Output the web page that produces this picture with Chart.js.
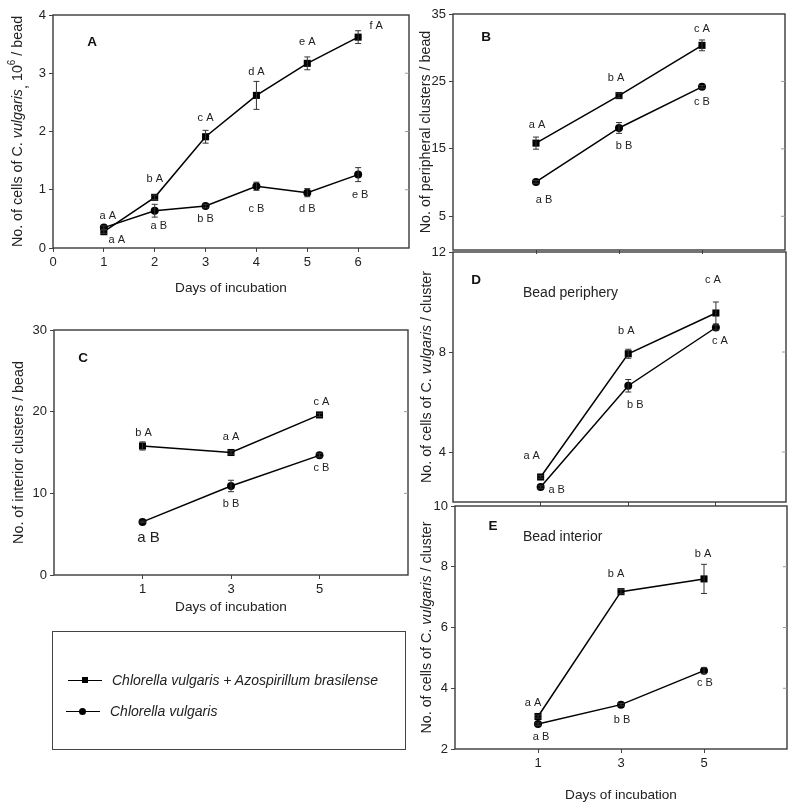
<!DOCTYPE html>
<html>
<head>
<meta charset="utf-8">
<script src="https://cdn.jsdelivr.net/npm/chart.js@4.4.1/dist/chart.umd.min.js"></script>
<style>
  body { margin: 0; background: #fff; width: 800px; height: 812px; position: relative; overflow: hidden;
         font-family: "Liberation Sans", Arial, sans-serif; }
  canvas { position: absolute; left: 0; top: 0; }
  #legend { position: absolute; left: 52px; top: 631px; width: 352px; height: 117px; border: 1.5px solid #444; }
  .row { position: absolute; left: 14px; height: 20px; font-style: italic; font-size: 14px; color: #222; line-height: 20px; }
  .mk { position: absolute; top: 10px; width: 34px; height: 0; border-top: 1.3px solid #000; }
  .sq { position: absolute; left: 14px; top: -4px; width: 6px; height: 6px; background: #000; }
  .ci { position: absolute; left: 13px; top: -4.5px; width: 7px; height: 7px; border-radius: 50%; background: #000; }
  .txt { position: absolute; left: 44px; white-space: nowrap; }
</style>
</head>
<body>
<canvas id="cA" width="800" height="812"></canvas>
<canvas id="cB" width="800" height="812"></canvas>
<canvas id="cC" width="800" height="812"></canvas>
<canvas id="cD" width="800" height="812"></canvas>
<canvas id="cE" width="800" height="812"></canvas>
<div id="legend">
  <div class="row" style="top:38px;left:15px"><div class="mk"><div class="sq"></div></div><div class="txt">Chlorella vulgaris + Azospirillum brasilense</div></div>
  <div class="row" style="top:69px;left:13px"><div class="mk"><div class="ci"></div></div><div class="txt">Chlorella vulgaris</div></div>
</div>
<script>
// --- data ---
const daysA = [1, 2, 3, 4, 5, 6];
const aMix = [0.28, 0.87, 1.91, 2.62, 3.17, 3.62];
const aMixErr = [0.03, 0.04, 0.11, 0.24, 0.11, 0.11];
const aCv = [0.35, 0.64, 0.72, 1.06, 0.95, 1.26];
const aCvErr = [0.03, 0.11, 0.03, 0.07, 0.07, 0.12];
const aMixLbl = ['a A', 'b A', 'c A', 'd A', 'e A', 'f A'];
const aCvLbl = ['a A', 'a B', 'b B', 'c B', 'd B', 'e B'];

const days = [1, 3, 5];
const bMix = [15.85, 22.9, 30.35];
const bMixErr = [0.9, 0.35, 0.8];
const bCv = [10.1, 18.1, 24.2];
const bCvErr = [0.2, 0.8, 0.2];
const bMixLbl = ['a A', 'b A', 'c A'];
const bCvLbl = ['a B', 'b B', 'c B'];

const cMix = [15.8, 15.0, 19.6];
const cMixErr = [0.5, 0.2, 0.2];
const cCv = [6.5, 10.9, 14.65];
const cCvErr = [0.1, 0.7, 0.2];
const cMixLbl = ['b A', 'a A', 'c A'];
const cCvLbl = ['a B', 'b B', 'c B'];

const dMix = [3.0, 7.93, 9.56];
const dMixErr = [0.05, 0.18, 0.44];
const dCv = [2.6, 6.65, 8.98];
const dCvErr = [0.05, 0.25, 0.1];
const dMixLbl = ['a A', 'b A', 'c A'];
const dCvLbl = ['a B', 'b B', 'c A'];

const eMix = [3.07, 7.18, 7.6];
const eMixErr = [0.05, 0.07, 0.48];
const eCv = [2.82, 3.46, 4.58];
const eCvErr = [0.04, 0.04, 0.1];
const eMixLbl = ['a A', 'b A', 'b A'];
const eCvLbl = ['a B', 'b B', 'c B'];

const ticksA_x = [0, 1, 2, 3, 4, 5, 6];
const ticksA_y = [0, 1, 2, 3, 4];
const ticksB_y = [5, 15, 25, 35];
const ticksC_y = [0, 10, 20, 30];
const ticksD_y = [4, 8, 12];
const ticksE_y = [2, 4, 6, 8, 10];

const FONT = '"Liberation Sans", Arial, sans-serif';
const TXT = '#222';

function rich(txt, opt) { return Object.assign({ t: txt, f: '14.3px ' + FONT }, opt || {}); }
const it = s => rich(s, { f: 'italic 14.3px ' + FONT });

function drawRich(ctx, segs, cx, cy, rot) {
  ctx.save();
  ctx.translate(cx, cy);
  ctx.rotate(rot);
  let w = 0;
  segs.forEach(s => { ctx.font = s.f; w += ctx.measureText(s.t).width; });
  let x = -w / 2;
  ctx.textBaseline = 'middle';
  ctx.textAlign = 'left';
  ctx.fillStyle = TXT;
  segs.forEach(s => {
    ctx.font = s.f;
    ctx.fillText(s.t, x, s.dy || 0);
    x += ctx.measureText(s.t).width;
  });
  ctx.restore();
}

function panelPlugin(p) {
  return {
    id: 'panel' + p.name,
    afterDatasetsDraw(chart) {
      const ctx = chart.ctx, a = chart.chartArea;
      const xs = chart.scales.x, ys = chart.scales.y;
      ctx.save();
      // frame
      ctx.strokeStyle = '#3a3a3a';
      ctx.lineWidth = 1.4;
      ctx.strokeRect(a.left, a.top, a.right - a.left, a.bottom - a.top);
      // small inward ticks on right edge
      ctx.strokeStyle = '#9a9a9a';
      ctx.lineWidth = 1;
      p.yTicks.forEach(v => {
        if (v <= ys.min || v >= ys.max) return;
        const y = ys.getPixelForValue(v);
        ctx.beginPath(); ctx.moveTo(a.right - 4, y); ctx.lineTo(a.right, y); ctx.stroke();
      });
      // error bars + letters
      chart.data.datasets.forEach(ds => {
        ds.data.forEach((pt, i) => {
          const x = xs.getPixelForValue(pt.x);
          const y = ys.getPixelForValue(pt.y);
          const y1 = ys.getPixelForValue(pt.y - ds.err[i]);
          const y2 = ys.getPixelForValue(pt.y + ds.err[i]);
          ctx.strokeStyle = '#333';
          ctx.lineWidth = 1;
          ctx.beginPath();
          ctx.moveTo(x, y1); ctx.lineTo(x, y2);
          ctx.moveTo(x - 3, y1); ctx.lineTo(x + 3, y1);
          ctx.moveTo(x - 3, y2); ctx.lineTo(x + 3, y2);
          ctx.stroke();
          const off = ds.off[i];
          ctx.fillStyle = TXT;
          ctx.font = (ds.big && ds.big[i] ? '15px ' : '11px ') + FONT;
          ctx.textAlign = 'center';
          ctx.textBaseline = 'middle';
          ctx.fillText(ds.lbl[i], x + off[0], y + off[1]);
        });
      });
      // panel letter and captions
      ctx.font = 'bold 13.5px ' + FONT;
      ctx.textAlign = 'center';
      ctx.textBaseline = 'middle';
      ctx.fillStyle = '#111';
      ctx.fillText(p.name, p.letter[0], p.letter[1]);
      if (p.caption) {
        ctx.font = '14px ' + FONT;
        ctx.textAlign = 'left';
        ctx.fillStyle = TXT;
        ctx.fillText(p.caption, p.capPos[0], p.capPos[1]);
      }
      // axis titles
      drawRich(ctx, p.yTitle, p.yTitleX, (a.top + a.bottom) / 2, -Math.PI / 2);
      if (p.xTitle) {
        ctx.font = '13.6px ' + FONT;
        ctx.textAlign = 'center';
        ctx.textBaseline = 'middle';
        ctx.fillStyle = TXT;
        ctx.fillText(p.xTitle, (a.left + a.right) / 2, p.xTitleY);
      }
      ctx.restore();
    }
  };
}

function makePanel(p) {
  const yW = 40, xH = 30;
  const pts = xs => xs.map((v, i) => ({ x: p.days[i], y: v }));
  new Chart(document.getElementById(p.canvas), {
    type: 'line',
    data: {
      datasets: [
        { data: pts(p.mix), err: p.mixErr, lbl: p.mixLbl, off: p.mixOff,
          borderColor: '#000', borderWidth: 1.5, pointStyle: 'rect', pointRadius: 5,
          pointBackgroundColor: '#000', pointBorderColor: '#000', pointBorderWidth: 0, tension: 0, clip: false },
        { data: pts(p.cv), err: p.cvErr, lbl: p.cvLbl, off: p.cvOff, big: p.cvBig,
          borderColor: '#000', borderWidth: 1.5, pointStyle: 'circle', pointRadius: 4,
          pointBackgroundColor: '#000', pointBorderColor: '#000', pointBorderWidth: 0, tension: 0, clip: false }
      ]
    },
    options: {
      responsive: false,
      animation: false,
      events: [],
      layout: {
        autoPadding: false,
        padding: { left: p.area.l - yW, top: p.area.t, right: 800 - p.area.r, bottom: 812 - p.area.b - xH }
      },
      plugins: { legend: { display: false }, tooltip: { enabled: false } },
      scales: {
        x: {
          type: 'linear', min: p.xMin, max: p.xMax,
          afterFit: s => { s.height = xH; },
          afterBuildTicks: s => { s.ticks = p.xTicks.map(v => ({ value: v })); },
          grid: { drawOnChartArea: false, tickLength: 4, color: '#444' },
          border: { display: false },
          ticks: { padding: 3, color: TXT, font: { family: FONT, size: 13 },
                   callback: v => (p.xLabels ? String(v) : '') }
        },
        y: {
          type: 'linear', min: p.yMin, max: p.yMax,
          afterFit: s => { s.width = yW; },
          afterBuildTicks: s => { s.ticks = p.yTicks.map(v => ({ value: v })); },
          grid: { drawOnChartArea: false, tickLength: 4, color: '#444' },
          border: { display: false },
          ticks: { padding: 3, color: TXT, font: { family: FONT, size: 13 } }
        }
      }
    },
    plugins: [panelPlugin(p)]
  });
}

const cellsTitle = tail => [rich('No. of cells of C. '), it('vulgaris')].concat(tail);

makePanel({
  name: 'A', canvas: 'cA', area: { l: 53, t: 15, r: 409, b: 248 },
  days: daysA, mix: aMix, mixErr: aMixErr, cv: aCv, cvErr: aCvErr,
  mixLbl: aMixLbl, cvLbl: aCvLbl,
  mixOff: [[13, 8], [0, -18], [0, -19], [0, -23], [0, -21], [18, -11]],
  cvOff: [[4, -12], [4, 15], [0, 13], [0, 23], [0, 16], [2, 20]],
  xMin: 0, xMax: 7, xTicks: ticksA_x, xLabels: true,
  yMin: 0, yMax: 4, yTicks: ticksA_y,
  letter: [92, 42],
  yTitleX: 18,
  yTitle: cellsTitle([rich(',', { dy: 5 }), rich(' 10'), rich('6', { f: '10px ' + FONT, dy: -6 }), rich(' / bead')]),
  xTitle: 'Days of incubation', xTitleY: 288
});

makePanel({
  name: 'B', canvas: 'cB', area: { l: 453, t: 14, r: 785, b: 250 },
  days: days, mix: bMix, mixErr: bMixErr, cv: bCv, cvErr: bCvErr,
  mixLbl: bMixLbl, cvLbl: bCvLbl,
  mixOff: [[1, -18], [-3, -18], [0, -16]],
  cvOff: [[8, 18], [5, 18], [0, 15]],
  xMin: -1, xMax: 7, xTicks: days, xLabels: false,
  yMin: 0, yMax: 35, yTicks: ticksB_y,
  letter: [486, 37],
  yTitleX: 426,
  yTitle: [rich('No. of peripheral clusters / bead')]
});

makePanel({
  name: 'C', canvas: 'cC', area: { l: 54, t: 330, r: 408, b: 575 },
  days: days, mix: cMix, mixErr: cMixErr, cv: cCv, cvErr: cCvErr,
  mixLbl: cMixLbl, cvLbl: cCvLbl, cvBig: [true, false, false],
  mixOff: [[1, -13], [0, -16], [2, -13]],
  cvOff: [[6, 16], [0, 18], [2, 13]],
  xMin: -1, xMax: 7, xTicks: days, xLabels: true,
  yMin: 0, yMax: 30, yTicks: ticksC_y,
  letter: [83, 358],
  yTitleX: 19,
  yTitle: [rich('No. of interior clusters / bead')],
  xTitle: 'Days of incubation', xTitleY: 607
});

makePanel({
  name: 'D', canvas: 'cD', area: { l: 453, t: 252, r: 786, b: 502 },
  days: days, mix: dMix, mixErr: dMixErr, cv: dCv, cvErr: dCvErr,
  mixLbl: dMixLbl, cvLbl: dCvLbl,
  mixOff: [[-9, -21], [-2, -23], [-3, -33]],
  cvOff: [[16, 3], [7, 19], [4, 13]],
  xMin: -1, xMax: 6.6, xTicks: days, xLabels: false,
  yMin: 2, yMax: 12, yTicks: ticksD_y,
  letter: [476, 280], caption: 'Bead periphery', capPos: [523, 293],
  yTitleX: 427,
  yTitle: cellsTitle([rich(' / cluster')])
});

makePanel({
  name: 'E', canvas: 'cE', area: { l: 455, t: 506, r: 787, b: 749 },
  days: days, mix: eMix, mixErr: eMixErr, cv: eCv, cvErr: eCvErr,
  mixLbl: eMixLbl, cvLbl: eCvLbl,
  mixOff: [[-5, -14], [-5, -18], [-1, -25]],
  cvOff: [[3, 13], [1, 15], [1, 12]],
  xMin: -1, xMax: 7, xTicks: days, xLabels: true,
  yMin: 2, yMax: 10, yTicks: ticksE_y,
  letter: [493, 526], caption: 'Bead interior', capPos: [523, 537],
  yTitleX: 427,
  yTitle: cellsTitle([rich(' / cluster')]),
  xTitle: 'Days of incubation', xTitleY: 795
});
</script>
</body>
</html>
